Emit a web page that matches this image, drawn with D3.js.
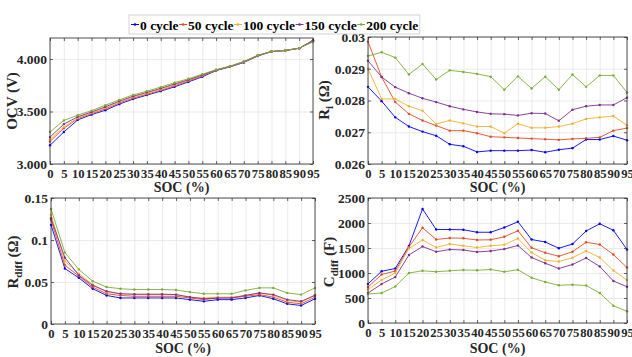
<!DOCTYPE html>
<html>
<head>
<meta charset="utf-8">
<script src="https://cdn.jsdelivr.net/npm/d3@7"></script>
<style>
body{margin:0;background:#fff}
svg text{font-family:"Liberation Serif","Times New Roman",serif;font-weight:bold}
.grid line{stroke:#e2e2e2;stroke-width:0.7}
.grid path{display:none}
.ax path{display:none}
.ax line{stroke:#262626;stroke-width:0.7}
.ax text{fill:#262626}
</style>
</head>
<body>
<script>
//Data
var soc = [0,5,10,15,20,25,30,35,40,45,50,55,60,65,70,75,80,85,90,95];
var cycles = ["0 cycle","50 cycle","100 cycle","150 cycle","200 cycle"];
var colors = ["#0000ff","#e24b22","#f0b030","#7e2f8e","#7aad35"];

var ocv = [
  [3.178,3.305,3.420,3.470,3.512,3.570,3.618,3.656,3.694,3.735,3.782,3.830,3.890,3.925,3.967,4.028,4.070,4.080,4.102,4.178],
  [3.215,3.340,3.432,3.480,3.525,3.580,3.628,3.664,3.702,3.745,3.790,3.838,3.893,3.927,3.970,4.030,4.071,4.081,4.102,4.176],
  [3.235,3.352,3.440,3.488,3.535,3.590,3.638,3.674,3.712,3.755,3.798,3.845,3.895,3.929,3.973,4.032,4.071,4.081,4.103,4.172],
  [3.256,3.380,3.450,3.495,3.545,3.598,3.645,3.682,3.720,3.762,3.802,3.848,3.896,3.930,3.974,4.033,4.072,4.082,4.103,4.170],
  [3.305,3.415,3.465,3.508,3.560,3.610,3.658,3.694,3.732,3.775,3.812,3.855,3.898,3.931,3.976,4.035,4.072,4.082,4.104,4.162]
];

var ri = [
  [0.02843,0.02798,0.02747,0.02718,0.02702,0.02689,0.02662,0.02656,0.02638,0.02642,0.02642,0.02642,0.02644,0.02637,0.02645,0.02650,0.02677,0.02677,0.02688,0.02675],
  [0.02985,0.02874,0.02795,0.02758,0.02737,0.02721,0.02705,0.02705,0.02697,0.02686,0.02684,0.02682,0.02680,0.02678,0.02676,0.02679,0.02681,0.02684,0.02705,0.02713],
  [0.02900,0.02805,0.02805,0.02782,0.02768,0.02726,0.02737,0.02728,0.02718,0.02718,0.02697,0.02727,0.02714,0.02714,0.02718,0.02727,0.02742,0.02747,0.02751,0.02722],
  [0.02925,0.02874,0.02842,0.02823,0.02807,0.02795,0.02782,0.02772,0.02764,0.02758,0.02757,0.02753,0.02760,0.02759,0.02736,0.02771,0.02782,0.02786,0.02786,0.02809],
  [0.02940,0.02952,0.02935,0.02882,0.02915,0.02866,0.02895,0.02890,0.02884,0.02875,0.02834,0.02876,0.02838,0.02875,0.02834,0.02882,0.02843,0.02879,0.02879,0.02825]
];

var rdiff = [
  [0.118,0.066,0.055,0.042,0.034,0.031,0.031,0.031,0.031,0.031,0.029,0.027,0.029,0.029,0.031,0.034,0.030,0.024,0.022,0.030],
  [0.124,0.070,0.057,0.044,0.036,0.034,0.033,0.033,0.033,0.033,0.031,0.029,0.031,0.031,0.033,0.035,0.032,0.026,0.024,0.032],
  [0.130,0.075,0.060,0.047,0.038,0.036,0.035,0.035,0.035,0.035,0.032,0.031,0.032,0.032,0.034,0.037,0.034,0.028,0.026,0.035],
  [0.126,0.079,0.058,0.046,0.039,0.036,0.0355,0.0355,0.0355,0.035,0.032,0.030,0.031,0.031,0.034,0.037,0.035,0.029,0.027,0.034],
  [0.137,0.085,0.065,0.051,0.044,0.042,0.041,0.041,0.041,0.0405,0.038,0.036,0.036,0.036,0.040,0.043,0.043,0.037,0.035,0.043]
];

var cdiff = [
  [782,1035,1090,1540,2280,1870,1870,1865,1815,1815,1910,2025,1670,1620,1495,1580,1840,1985,1855,1470],
  [720,970,1040,1520,1905,1670,1700,1695,1660,1665,1725,1845,1505,1405,1335,1425,1615,1570,1370,1110],
  [670,860,1000,1490,1660,1510,1580,1545,1510,1545,1565,1690,1410,1255,1230,1305,1440,1310,1050,860],
  [600,780,920,1360,1530,1425,1470,1460,1420,1440,1480,1550,1310,1195,1090,1170,1300,1130,840,725],
  [580,600,730,1000,1045,1025,1045,1060,1055,1070,1025,1065,905,820,755,765,750,600,345,235]
];

var ocvTicks = [3,3.5,4];
var riTicks = [0.026,0.027,0.028,0.029,0.03];
var rdiffTicks = [0,0.05,0.1,0.15];
var cdiffTicks = [0,500,1000,1500,2000,2500];

//Panels
var panels = [
  {data:ocv, left:50, right:313, top:38, bottom:164, domain:[3,4.2], ticks:ocvTicks, fmt:d3.format(".3f"),
   lab:["OCV (V)",""], labX:17, labY:101, xl:28},
  {data:ri, left:368, right:627, top:37, bottom:164, domain:[0.026,0.03], ticks:riTicks, fmt:String,
   lab:["R","i"," (\u03A9)"], labX:329, labY:100, xl:28},
  {data:rdiff, left:51, right:315, top:198, bottom:324, domain:[0,0.15], ticks:rdiffTicks, fmt:String,
   lab:["R","diff"," (\u03A9)"], labX:18, labY:262, xl:29},
  {data:cdiff, left:368, right:627, top:198, bottom:323, domain:[0,2500], ticks:cdiffTicks, fmt:String,
   lab:["C","diff"," (F)"], labX:334, labY:262, xl:30}
];

var width = 632, height = 357;

var svg = d3.select("body").append("svg")
  .attr("width", width)
  .attr("height", height);

panels.forEach(function(p){
  var x = d3.scaleLinear().domain([0,95]).range([p.left,p.right]);
  var y = d3.scaleLinear().domain(p.domain).range([p.bottom,p.top]);
  var h = p.bottom - p.top, w = p.right - p.left;
  var g = svg.append("g");

  //Grid
  g.append("g").attr("class","grid")
    .attr("transform","translate(0,"+p.bottom+")")
    .call(d3.axisBottom(x).tickValues(soc).tickSize(-h).tickFormat(""));
  g.append("g").attr("class","grid")
    .attr("transform","translate("+p.left+",0)")
    .call(d3.axisLeft(y).tickValues(p.ticks).tickSize(-w).tickFormat(""));

  //Lines
  var line = d3.line()
    .x(function(d,i){ return x(soc[i]); })
    .y(function(d){ return y(d); });

  p.data.forEach(function(series,k){
    g.append("path")
      .attr("d", line(series))
      .attr("fill","none")
      .attr("stroke", colors[k])
      .attr("stroke-width",0.9);
    g.selectAll(".m"+k)
      .data(series).enter().append("circle")
      .attr("cx",function(d,i){ return x(soc[i]); })
      .attr("cy",function(d){ return y(d); })
      .attr("r",1.2)
      .attr("fill",colors[k]);
  });

  //Axes
  g.append("g").attr("class","ax")
    .attr("transform","translate(0,"+p.bottom+")")
    .call(d3.axisBottom(x).tickValues(soc).tickSize(-3).tickPadding(5))
    .attr("font-size",12.6);
  g.append("g").attr("class","ax")
    .attr("transform","translate(0,"+p.top+")")
    .call(d3.axisTop(x).tickValues(soc).tickSize(-3).tickFormat(""));
  g.append("g").attr("class","ax")
    .attr("transform","translate("+p.left+",0)")
    .call(d3.axisLeft(y).tickValues(p.ticks).tickSize(-3).tickPadding(3).tickFormat(p.fmt))
    .attr("font-size",13.5);
  g.append("g").attr("class","ax")
    .attr("transform","translate("+p.right+",0)")
    .call(d3.axisRight(y).tickValues(p.ticks).tickSize(-3).tickFormat(""));

  g.append("rect")
    .attr("x",p.left).attr("y",p.top)
    .attr("width",w).attr("height",h)
    .attr("fill","none")
    .attr("stroke","#262626")
    .attr("stroke-width",0.8);

  //X label
  g.append("text")
    .attr("x",(p.left+p.right)/2)
    .attr("y",p.bottom+p.xl)
    .attr("text-anchor","middle")
    .attr("font-size",14)
    .attr("fill","#262626")
    .text("SOC (%)");

  //Y label
  var yl = g.append("text")
    .attr("transform","translate("+p.labX+","+p.labY+") rotate(-90)")
    .attr("text-anchor","middle")
    .attr("font-size",15)
    .attr("fill","#262626");
  yl.append("tspan").text(p.lab[0]);
  if (p.lab[1]) {
    yl.append("tspan").attr("dy",4).attr("font-size",11).text(p.lab[1]);
    yl.append("tspan").attr("dy",-4).text(p.lab[2]);
  }
});

//Legend
var leg = svg.append("g");
var box = leg.append("rect")
  .attr("y",15).attr("height",19)
  .attr("fill","#fff")
  .attr("stroke","#c8c8c8")
  .attr("stroke-width",0.8);
var cx = 131;
cycles.forEach(function(c,k){
  leg.append("line")
    .attr("x1",cx).attr("x2",cx+8)
    .attr("y1",24.5).attr("y2",24.5)
    .attr("stroke",colors[k]).attr("stroke-width",1);
  leg.append("circle")
    .attr("cx",cx+4).attr("cy",24.5).attr("r",1.3)
    .attr("fill",colors[k]);
  var t = leg.append("text")
    .attr("x",cx+9).attr("y",29.5)
    .attr("font-size",13.5)
    .attr("fill","#000")
    .text(c);
  cx += 9 + t.node().getComputedTextLength() + 0.5;
});
box.attr("x",129).attr("width",cx-129+1);
</script>
</body>
</html>
